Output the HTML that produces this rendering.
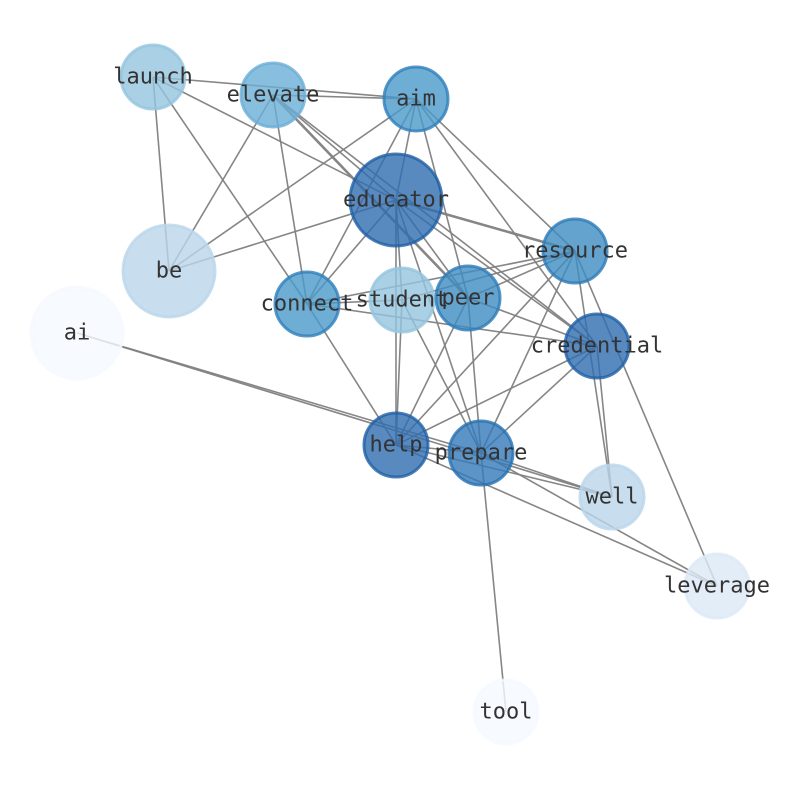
<!DOCTYPE html>
<html><head><style>body{margin:0;background:#fff}svg{display:block}</style></head><body>
<svg width="794" height="790" xmlns="http://www.w3.org/2000/svg">
<g stroke="#808080" stroke-width="1.6" stroke-opacity="0.95">
<line x1="153" y1="77" x2="416" y2="99"/>
<line x1="273" y1="95" x2="416" y2="99"/>
<line x1="153" y1="77" x2="396" y2="200"/>
<line x1="153" y1="77" x2="307" y2="304"/>
<line x1="153" y1="77" x2="169" y2="271"/>
<line x1="273" y1="95" x2="169" y2="271"/>
<line x1="273" y1="95" x2="307" y2="304"/>
<line x1="273" y1="95" x2="468" y2="298" stroke-width="2.6"/>
<line x1="273" y1="95" x2="597" y2="346"/>
<line x1="273" y1="95" x2="396" y2="200"/>
<line x1="416" y1="99" x2="169" y2="271"/>
<line x1="416" y1="99" x2="396" y2="200"/>
<line x1="416" y1="99" x2="307" y2="304"/>
<line x1="416" y1="99" x2="468" y2="298"/>
<line x1="416" y1="99" x2="575" y2="251"/>
<line x1="416" y1="99" x2="597" y2="346"/>
<line x1="396" y1="200" x2="169" y2="271"/>
<line x1="396" y1="200" x2="307" y2="304"/>
<line x1="396" y1="200" x2="575" y2="251" stroke-width="2.6"/>
<line x1="396" y1="200" x2="402" y2="300"/>
<line x1="396" y1="200" x2="468" y2="298"/>
<line x1="396" y1="200" x2="396" y2="445"/>
<line x1="396" y1="200" x2="481" y2="453"/>
<line x1="396" y1="200" x2="597" y2="346"/>
<line x1="575" y1="251" x2="307" y2="304"/>
<line x1="575" y1="251" x2="402" y2="300"/>
<line x1="575" y1="251" x2="468" y2="298"/>
<line x1="575" y1="251" x2="396" y2="445"/>
<line x1="575" y1="251" x2="481" y2="453"/>
<line x1="575" y1="251" x2="612" y2="497"/>
<line x1="575" y1="251" x2="717" y2="586"/>
<line x1="307" y1="304" x2="597" y2="346"/>
<line x1="307" y1="304" x2="402" y2="300"/>
<line x1="307" y1="304" x2="396" y2="445"/>
<line x1="402" y1="300" x2="396" y2="445"/>
<line x1="402" y1="300" x2="481" y2="453"/>
<line x1="468" y1="298" x2="597" y2="346"/>
<line x1="468" y1="298" x2="396" y2="445"/>
<line x1="468" y1="298" x2="481" y2="453"/>
<line x1="597" y1="346" x2="396" y2="445"/>
<line x1="597" y1="346" x2="481" y2="453"/>
<line x1="597" y1="346" x2="612" y2="497"/>
<line x1="396" y1="445" x2="481" y2="453"/>
<line x1="396" y1="445" x2="612" y2="497"/>
<line x1="396" y1="445" x2="717" y2="586"/>
<line x1="77" y1="333" x2="612" y2="497"/>
<line x1="77" y1="333" x2="481" y2="453"/>
<line x1="481" y1="453" x2="612" y2="497"/>
<line x1="481" y1="453" x2="717" y2="586"/>
<line x1="481" y1="453" x2="506" y2="712"/>
</g>
<g stroke-width="3" fill-opacity="0.8" stroke-opacity="0.8">
<circle cx="153" cy="77" r="32" fill="#94c4df" stroke="#94c4df"/>
<circle cx="273" cy="95" r="32" fill="#6aaed6" stroke="#6aaed6"/>
<circle cx="416" cy="99" r="32" fill="#4a98c9" stroke="#2e7ebc"/>
<circle cx="396" cy="200" r="46" fill="#2e6db0" stroke="#1f5fa5"/>
<circle cx="169" cy="271" r="46" fill="#bad6eb" stroke="#bad6eb"/>
<circle cx="575" cy="251" r="32" fill="#3f8cc3" stroke="#2c7bb6"/>
<circle cx="307" cy="304" r="32" fill="#4a98c9" stroke="#2e7ebc"/>
<circle cx="402" cy="300" r="32" fill="#94c4df" stroke="#94c4df"/>
<circle cx="468" cy="298" r="32" fill="#3f8cc3" stroke="#2c7bb6"/>
<circle cx="77" cy="333" r="46" fill="#f5f9fe" stroke="#f5f9fe"/>
<circle cx="597" cy="346" r="32" fill="#2e6db0" stroke="#1f5fa5"/>
<circle cx="396" cy="445" r="32" fill="#2e6db0" stroke="#1f5fa5"/>
<circle cx="481" cy="453" r="32" fill="#3379b9" stroke="#2570b0"/>
<circle cx="612" cy="497" r="32" fill="#bad6eb" stroke="#bad6eb"/>
<circle cx="717" cy="586" r="32" fill="#dce9f6" stroke="#dce9f6"/>
<circle cx="506" cy="712" r="32" fill="#f5f9fe" stroke="#f5f9fe"/>
</g>
<g font-family="'DejaVu Sans Mono','Liberation Mono',monospace" font-size="22" fill="#333" text-anchor="middle" dominant-baseline="central">
<text x="153" y="77">launch</text>
<text x="273" y="95">elevate</text>
<text x="416" y="99">aim</text>
<text x="396" y="200">educator</text>
<text x="169" y="271">be</text>
<text x="575" y="251">resource</text>
<text x="307" y="304">connect</text>
<text x="402" y="300">student</text>
<text x="468" y="298">peer</text>
<text x="77" y="333">ai</text>
<text x="597" y="346">credential</text>
<text x="396" y="445">help</text>
<text x="481" y="453">prepare</text>
<text x="612" y="497">well</text>
<text x="717" y="586">leverage</text>
<text x="506" y="712">tool</text>
</g>
</svg>
</body></html>
